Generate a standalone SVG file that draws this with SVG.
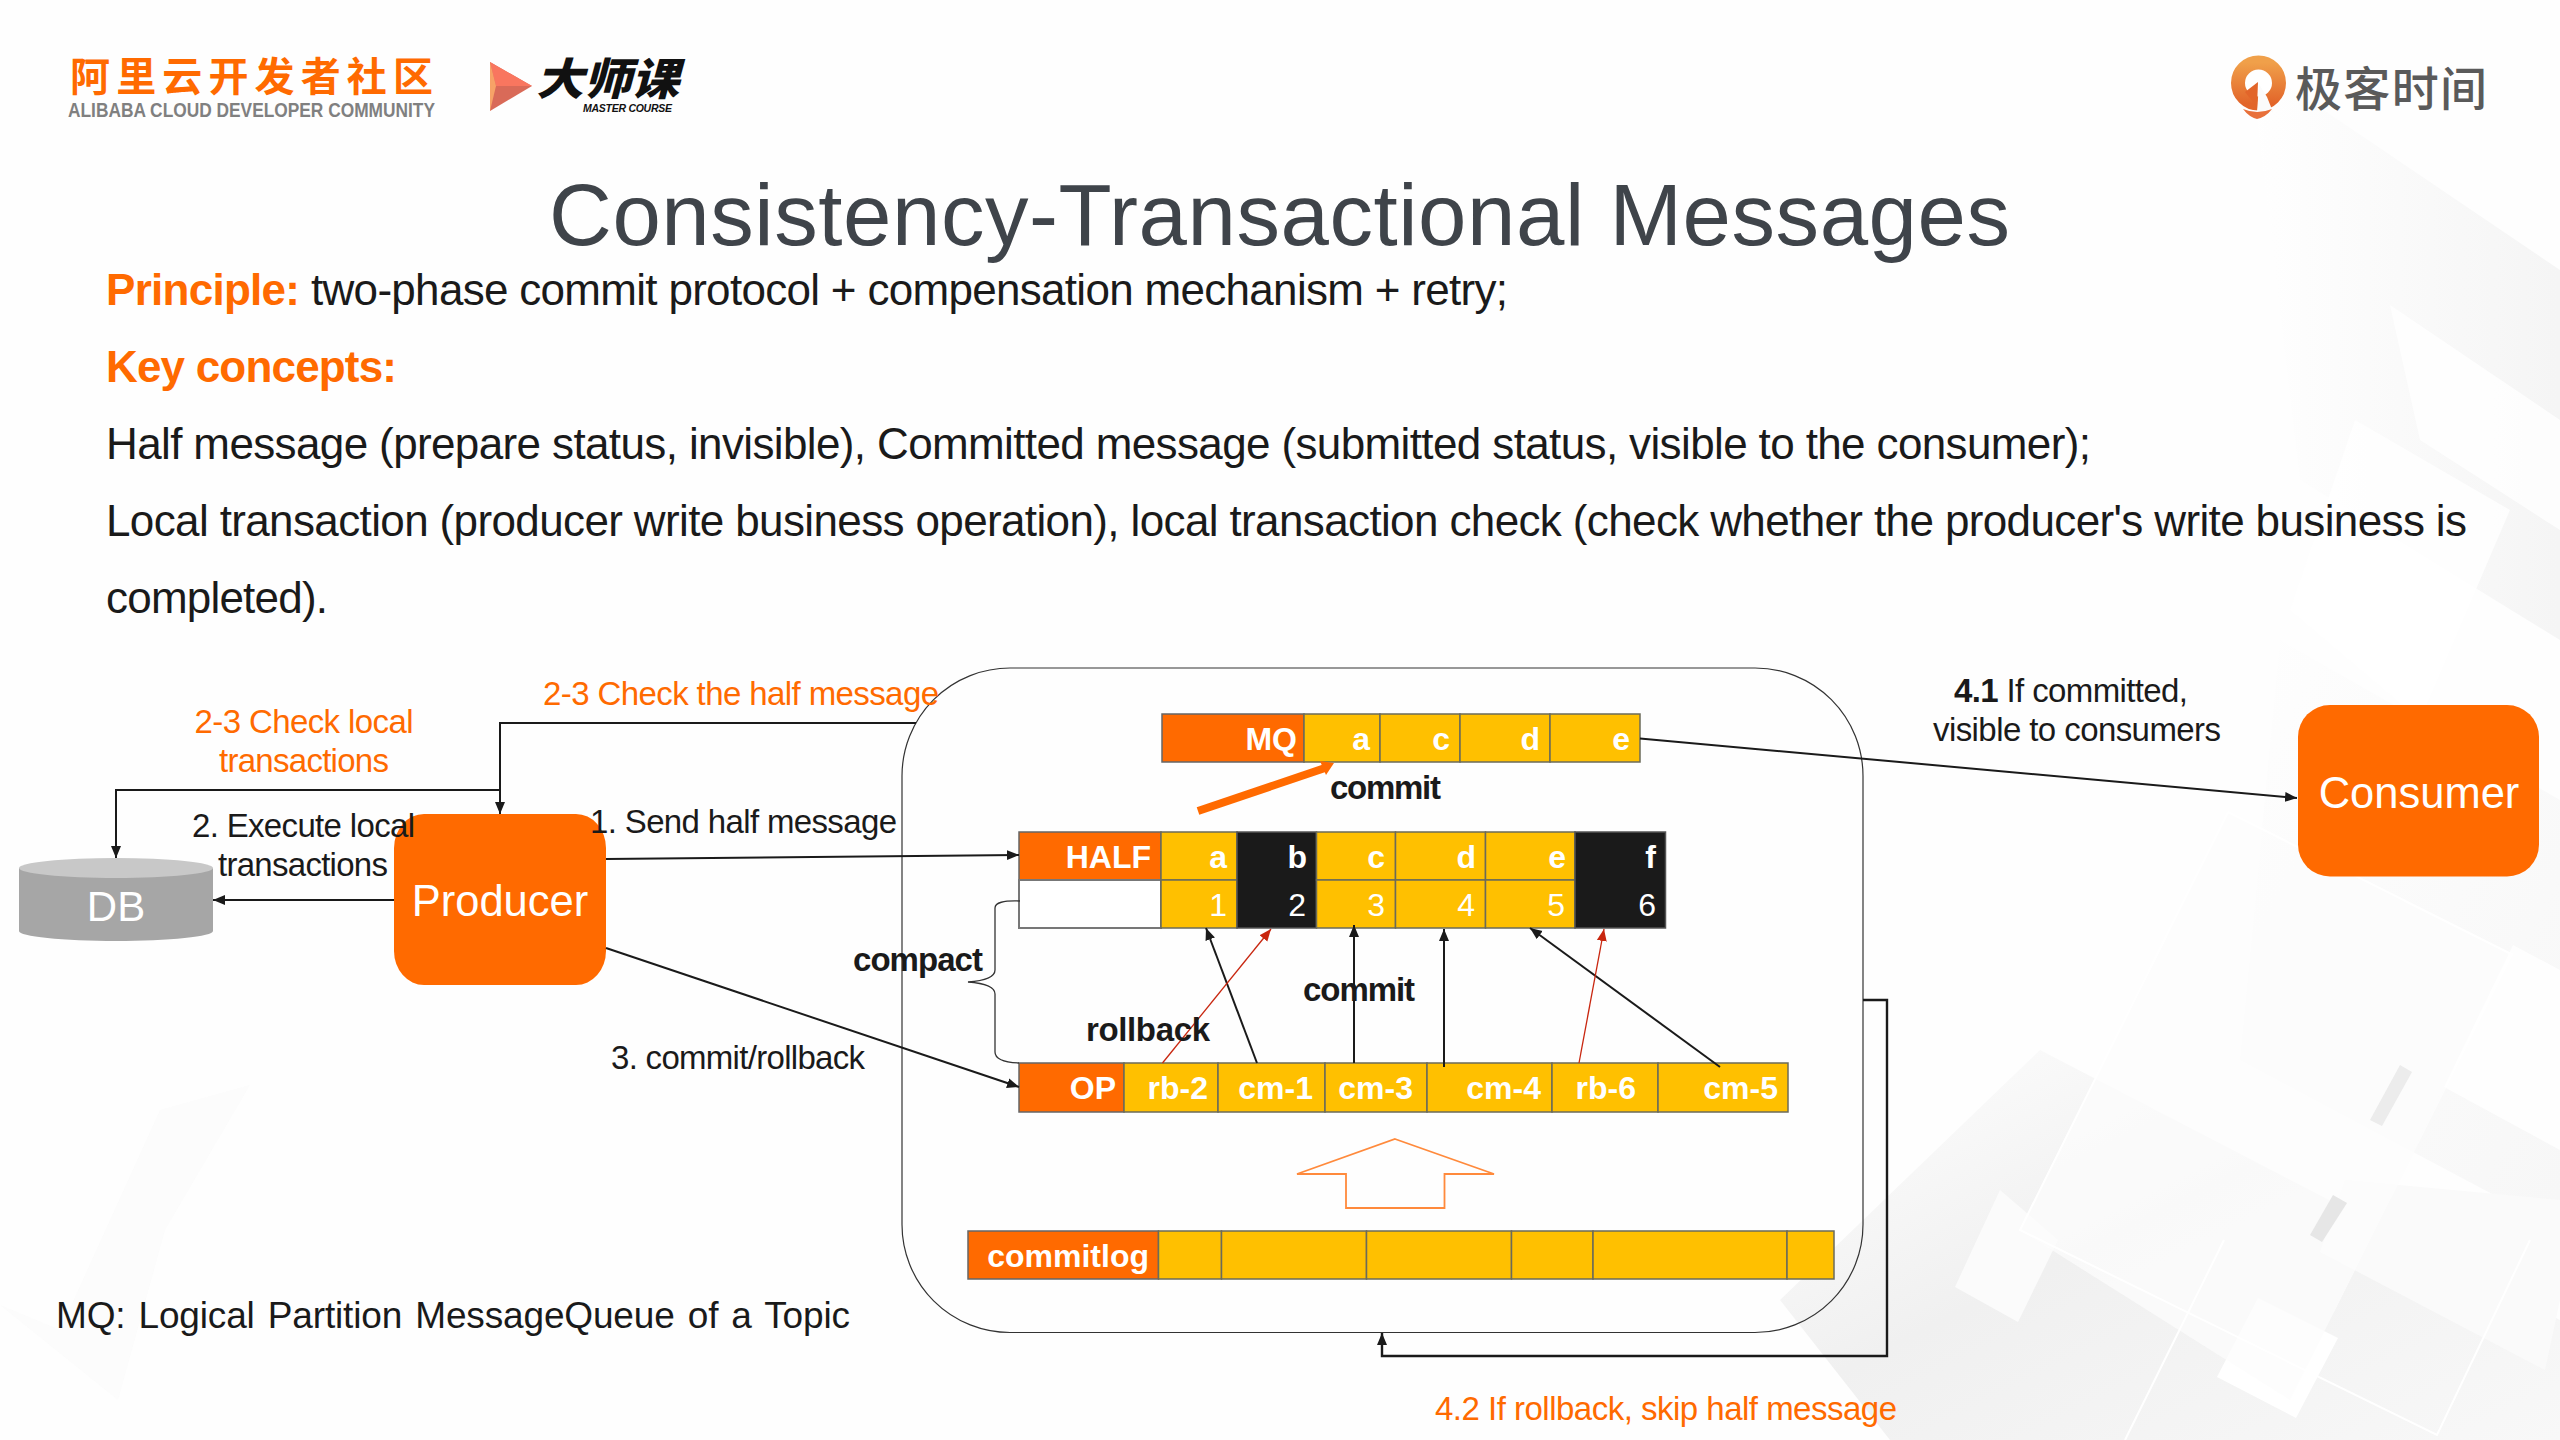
<svg xmlns="http://www.w3.org/2000/svg" width="2560" height="1440" viewBox="0 0 2560 1440">
<style>
text{font-family:"Liberation Sans",Arial,sans-serif;fill:#1a1a1a}
.cjk{font-family:"Noto Sans CJK SC","Liberation Sans",sans-serif}
.body{font-size:44px}
.lab{font-size:33px}
.or{fill:#ff6a00}
.b{font-weight:700}
.cell{font-size:32px;fill:#fff;text-anchor:end}
.cb{font-weight:700}
.y{fill:#ffc000;stroke:#6b6b5a;stroke-width:1.5}
.o{fill:#ff6a00;stroke:#666;stroke-width:1.5}
.k{fill:#1a1a1a;stroke:#555;stroke-width:1.5}
.w{fill:#fff;stroke:#777;stroke-width:2}
.ln{fill:none;stroke:#1a1a1a;stroke-width:2}
.ar{marker-end:url(#ah)}
.red{fill:none;stroke:#c8260f;stroke-width:1.3;marker-end:url(#ahr)}
.nodeT{font-size:44px;fill:#fff;text-anchor:middle}
</style>
<defs>
<marker id="ah" markerUnits="userSpaceOnUse" markerWidth="14" markerHeight="12" refX="12" refY="6" orient="auto"><path d="M0 1L12 6L0 11Z" fill="#1a1a1a"/></marker>
<marker id="ahr" markerUnits="userSpaceOnUse" markerWidth="14" markerHeight="12" refX="12" refY="6" orient="auto"><path d="M0 1L12 6L0 11Z" fill="#c8260f"/></marker>
<linearGradient id="g1" x1="0" y1="0" x2="1" y2="1"><stop offset="0" stop-color="#ffffff"/><stop offset=".45" stop-color="#f0f0f0"/><stop offset="1" stop-color="#f8f8f8"/></linearGradient>
<linearGradient id="g2" x1="0" y1="0" x2="1" y2="1"><stop offset="0" stop-color="#fefefe"/><stop offset="1" stop-color="#f2f2f2"/></linearGradient>
<linearGradient id="g3" x1="0" y1="0" x2="1" y2="0"><stop offset="0" stop-color="#ffffff"/><stop offset="1" stop-color="#f1f1f1"/></linearGradient>
<linearGradient id="pin" x1="0" y1="0" x2="0" y2="1"><stop offset="0" stop-color="#f0a04a"/><stop offset="1" stop-color="#e2652a"/></linearGradient>
</defs>

<g id="background">
<rect width="2560" height="1440" fill="#fefefe"/>
<polygon points="1780,1300 2040,1050 2560,1320 2560,1440 1890,1440" fill="url(#g1)"/>
<polygon points="2280,640 2560,800 2560,1230 2240,1060" fill="url(#g2)" opacity=".6"/>
<polygon points="2250,60 2560,270 2560,640 2300,480" fill="url(#g3)" opacity=".7"/>
<polygon points="2258,1298 2338,1338 2296,1418 2217,1377" fill="#fff"/>
<polygon points="1955,1287 2018,1322 2058,1240 2000,1190" fill="#fbfbfb"/>
<polygon points="2320,1252 2545,1370 2560,1300 2560,1200 2345,1180" fill="#fafafa"/>
<polygon points="2390,305 2560,420 2560,530 2420,440" fill="#fff" opacity=".8"/>
<polygon points="2355,420 2510,510 2420,720 2290,610" fill="#fff" opacity=".8"/>
<polygon points="2228,812 2513,955 2290,1400 2020,1230" fill="#fcfcfc" opacity=".75"/>
<path d="M2228 812L2513 955M2228 812L2020 1230L2437 1435L2530 1240M2224 1240L2125 1440" fill="none" stroke="#fff" stroke-width="2"/>
<polygon points="2513,945 2560,970 2560,1150 2444,1087" fill="#fff" opacity=".8"/>
<polygon points="2400,1065 2412,1072 2382,1126 2370,1120" fill="#ececec"/>
<polygon points="2333,1195 2347,1203 2322,1242 2310,1235" fill="#e6e6e6"/>
<polygon points="0,1305 118,1400 165,1230 250,1085 160,1110 60,1330" fill="#fafafa" opacity=".6"/>
</g>

<g id="logo-alibaba">
<text class="cjk" x="70" y="91" font-size="40" style="fill:#ff6a00" textLength="363" font-weight="700">阿里云开发者社区</text>
<text x="68" y="117" font-size="20" style="fill:#808080" textLength="367" lengthAdjust="spacingAndGlyphs" font-weight="700">ALIBABA CLOUD DEVELOPER COMMUNITY</text>
</g>
<g id="logo-master">
<polygon points="490,62 532,86 490,111" fill="#d96a58"/>
<polygon points="490,62 532,86 496,86" fill="#f9765f"/>
<polygon points="490,62 496,86 490,111" fill="#f7a267"/>
<text class="cjk" x="536" y="95" font-size="44" font-weight="900" font-style="italic" style="fill:#111" textLength="143" lengthAdjust="spacingAndGlyphs">大师课</text>
<text x="583" y="112" font-size="10.500" font-weight="700" font-style="italic" style="fill:#111" textLength="89">MASTER COURSE</text>
</g>
<g id="logo-geek">
<circle cx="2258.500" cy="83" r="20.500" fill="#fff" stroke="url(#pin)" stroke-width="14"/>
<polygon points="2259,84 2267,97 2273,112 2257,112" fill="#fbfbfb"/>
<polygon points="2258,82 2245,92 2257,107" fill="#e2652a"/>
<path d="M2243 109Q2257 115 2272 109Q2266 117 2257 119Q2249 117 2243 109Z" fill="#e8703a"/>
<text class="cjk" x="2295" y="106" font-size="47" font-weight="500" style="fill:#5a5a5a" textLength="192">极客时间</text>
</g>

<text id="title" x="549" y="245" font-size="87" style="fill:#3f444a" textLength="1461">Consistency-Transactional Messages</text>

<g id="intro">
<text class="body b or" x="106" y="305" textLength="194">Principle:</text>
<text class="body" x="311" y="305" textLength="1197">two-phase commit protocol + compensation mechanism + retry;</text>
<text class="body b or" x="106" y="382" textLength="291">Key concepts:</text>
<text class="body" x="106" y="459" textLength="1985">Half message (prepare status, invisible), Committed message (submitted status, visible to the consumer);</text>
<text class="body" x="106" y="536" textLength="2361">Local transaction (producer write business operation), local transaction check (check whether the producer's write business is</text>
<text class="body" x="106" y="613" textLength="222">completed).</text>
</g>

<g id="node-db">
<path d="M19 868V931A97 10 0 0 0 213 931V868Z" fill="#a6a6a6"/>
<ellipse cx="116" cy="868" rx="97" ry="10" fill="#c8c8c8"/>
<text class="nodeT" x="116" y="921" style="font-size:42px">DB</text>
</g>
<g id="node-producer">
<rect x="394" y="814" width="212" height="171" rx="30" ry="34" fill="#ff6a00"/>
<text class="nodeT" x="500" y="916" style="font-size:43.500px">Producer</text>
</g>
<g id="node-consumer">
<rect x="2298" y="705" width="241" height="171.500" rx="32" fill="#ff6a00"/>
<text class="nodeT" x="2419" y="808" style="font-size:43.500px">Consumer</text>
</g>

<g id="node-mq">
<rect class="o" x="1162" y="714" width="142" height="48"/>
<rect class="y" x="1304" y="714" width="76" height="48"/>
<rect class="y" x="1380" y="714" width="80" height="48"/>
<rect class="y" x="1460" y="714" width="90" height="48"/>
<rect class="y" x="1550" y="714" width="90" height="48"/>
<text class="cell cb" x="1297" y="750">MQ</text>
<text class="cell cb" x="1370" y="750">a</text>
<text class="cell cb" x="1450" y="750">c</text>
<text class="cell cb" x="1540" y="750">d</text>
<text class="cell cb" x="1630" y="750">e</text>
</g>

<g id="node-half">
<rect class="o" x="1019" y="832" width="142" height="48"/>
<rect class="w" x="1019" y="880" width="142" height="48"/>
<rect class="y" x="1161" y="832" width="76" height="48"/>
<rect class="y" x="1161" y="880" width="76" height="48"/>
<rect class="k" x="1237" y="832" width="79.500" height="96"/>
<rect class="y" x="1316.500" y="832" width="79" height="48"/>
<rect class="y" x="1316.500" y="880" width="79" height="48"/>
<rect class="y" x="1395.500" y="832" width="90" height="48"/>
<rect class="y" x="1395.500" y="880" width="90" height="48"/>
<rect class="y" x="1485.500" y="832" width="89.500" height="48"/>
<rect class="y" x="1485.500" y="880" width="89.500" height="48"/>
<rect class="k" x="1575" y="832" width="90.500" height="96"/>
<text class="cell cb" x="1151" y="868">HALF</text>
<text class="cell cb" x="1227" y="868">a</text>
<text class="cell cb" x="1307" y="868">b</text>
<text class="cell cb" x="1385" y="868">c</text>
<text class="cell cb" x="1476" y="868">d</text>
<text class="cell cb" x="1566" y="868">e</text>
<text class="cell cb" x="1656" y="868">f</text>
<text class="cell" x="1227" y="916">1</text>
<text class="cell" x="1306" y="916">2</text>
<text class="cell" x="1385" y="916">3</text>
<text class="cell" x="1475" y="916">4</text>
<text class="cell" x="1565" y="916">5</text>
<text class="cell" x="1656" y="916">6</text>
</g>

<g id="node-op">
<rect class="o" x="1019" y="1063" width="105" height="49"/>
<rect class="y" x="1124" y="1063" width="94" height="49"/>
<rect class="y" x="1218" y="1063" width="107" height="49"/>
<rect class="y" x="1325" y="1063" width="102" height="49"/>
<rect class="y" x="1427" y="1063" width="125" height="49"/>
<rect class="y" x="1552" y="1063" width="106" height="49"/>
<rect class="y" x="1658" y="1063" width="130" height="49"/>
<text class="cell cb" x="1116" y="1099">OP</text>
<text class="cell cb" x="1208" y="1099">rb-2</text>
<text class="cell cb" x="1313" y="1099">cm-1</text>
<text class="cell cb" x="1413" y="1099">cm-3</text>
<text class="cell cb" x="1541" y="1099">cm-4</text>
<text class="cell cb" x="1636" y="1099">rb-6</text>
<text class="cell cb" x="1778" y="1099">cm-5</text>
</g>

<g id="node-commitlog">
<rect class="o" x="968" y="1231" width="190.500" height="48"/>
<rect class="y" x="1158.500" y="1231" width="63" height="48"/>
<rect class="y" x="1221.500" y="1231" width="145" height="48"/>
<rect class="y" x="1366.500" y="1231" width="145" height="48"/>
<rect class="y" x="1511.500" y="1231" width="81.500" height="48"/>
<rect class="y" x="1593" y="1231" width="194" height="48"/>
<rect class="y" x="1787" y="1231" width="47" height="48"/>
<text class="cell cb" x="1149" y="1267">commitlog</text>
</g>

<g id="connectors">
<rect x="902" y="668" width="961" height="664.500" rx="108" ry="108" fill="none" stroke="#333" stroke-width="1.200"/>
<path class="ln ar" d="M916 723H500V814"/>
<path class="ln ar" d="M500 790H116V858"/>
<path class="ln ar" d="M394 900H213"/>
<path class="ln ar" d="M606 859L1019 855"/>
<path class="ln ar" d="M606 948L1019 1087"/>
<path class="ln ar" d="M1640 738.500L2297 798"/>
<path class="ln ar" d="M1863 1000H1887V1356H1382V1333" style="stroke-width:2.400"/>
<path class="ln ar" d="M1257 1063L1206 928"/>
<path class="red" d="M1162.500 1063L1271 929"/>
<path class="ln ar" d="M1354 1063V925"/>
<path class="ln ar" d="M1444 1067V929"/>
<path class="ln ar" d="M1720 1067L1530 928"/>
<path class="red" d="M1579 1063L1604 929"/>
<path d="M1020 901Q995 900 995 908V970Q995 980 968 982Q995 984 995 994V1052Q995 1062 1019 1063" fill="none" stroke="#333" stroke-width="1.300"/>
<path d="M1198 811L1325 768" fill="none" stroke="#ff6a00" stroke-width="8"/>
<polygon points="1334,763 1320,761 1326,775" fill="#ff6a00"/>
<polygon points="1395,1139 1494,1174 1444.500,1174 1444.500,1208 1346,1208 1346,1174 1297,1174" fill="none" stroke="#ff8a3c" stroke-width="1.800"/>
</g>

<g id="labels">
<text class="lab or" x="304" y="733" text-anchor="middle" textLength="219">2-3 Check local</text>
<text class="lab or" x="304" y="772" text-anchor="middle" textLength="170">transactions</text>
<text class="lab or" x="543" y="705" textLength="396">2-3 Check the half message</text>
<text class="lab" x="192" y="837" textLength="223">2. Execute local</text>
<text class="lab" x="218" y="876" textLength="170">transactions</text>
<text class="lab" x="590" y="833" textLength="307">1. Send half message</text>
<text class="lab" x="611" y="1069" textLength="254">3. commit/rollback</text>
<text class="lab b" x="853" y="971" textLength="130">compact</text>
<text class="lab b" x="1330" y="799" textLength="111">commit</text>
<text class="lab b" x="1303" y="1001" textLength="112">commit</text>
<text class="lab b" x="1086" y="1041" textLength="124">rollback</text>
<text class="lab" x="1954" y="702" textLength="234"><tspan class="b">4.1</tspan> If committed,</text>
<text class="lab" x="1933" y="741" textLength="288">visible to consumers</text>
<text class="lab or" x="1435" y="1420" textLength="462">4.2 If rollback, skip half message</text>
<text x="56" y="1328" font-size="37" word-spacing="3" textLength="794">MQ: Logical Partition MessageQueue of a Topic</text>
</g>
</svg>
